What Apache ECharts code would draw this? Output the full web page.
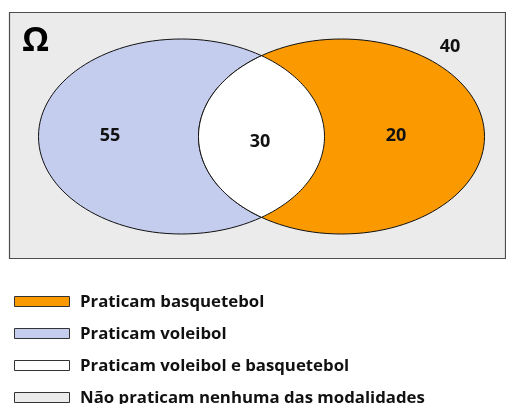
<!DOCTYPE html>
<html><head><meta charset="utf-8">
<script src="https://cdn.jsdelivr.net/npm/echarts@6/dist/echarts.min.js"></script>
<style>html,body{margin:0;padding:0;background:#fff}#c{width:506px;height:404px}</style>
</head><body><div id="c"></div>
<script>
// Data
var regionNames = ['Praticam voleibol', 'Praticam voleibol e basquetebol', 'Praticam basquetebol', 'Não praticam nenhuma das modalidades'];
var regionValues = [55, 30, 20, 40];
var legendNames = ['Praticam basquetebol', 'Praticam voleibol', 'Praticam voleibol e basquetebol', 'Não praticam nenhuma das modalidades'];
var legendColors = ['#fb9a00', '#c5cdee', '#ffffff', '#ebebeb'];
var universeLabel = 'Ω';

// Layout
var box = {x: 9, y: 12, w: 496, h: 246};
var L = {cx: 181.5, cy: 136.5, rx: 143, ry: 97.5};
var R = {cx: 341.5, cy: 136.5, rx: 143, ry: 97.5};
var xi = (L.cx + R.cx) / 2;
var tL = Math.acos((xi - L.cx) / L.rx);
var tR = Math.acos((xi - R.cx) / R.rx);
var pts = [], N = 80, k, a;
for (k = 0; k <= N; k++) {
  a = -tL + 2 * tL * k / N;
  pts.push([L.cx + L.rx * Math.cos(a), L.cy + L.ry * Math.sin(a)]);
}
for (k = 0; k <= N; k++) {
  a = tR + (2 * Math.PI - 2 * tR) * k / N;
  pts.push([R.cx + R.rx * Math.cos(a), R.cy + R.ry * Math.sin(a)]);
}

var FONT = '"Open Sans","Noto Sans",sans-serif';
var els = [];
els.push({type: 'rect', shape: {x: box.x + 0.5, y: box.y + 0.5, width: box.w, height: box.h},
  style: {fill: '#ebebeb', stroke: '#4d4d4d', lineWidth: 1.2}});
els.push({type: 'ellipse', shape: L, style: {fill: '#c5cdee', stroke: '#111', lineWidth: 1}});
els.push({type: 'ellipse', shape: R, style: {fill: '#fb9a00', stroke: '#111', lineWidth: 1}});
els.push({type: 'polygon', shape: {points: pts}, style: {fill: '#ffffff', stroke: '#111', lineWidth: 1}});

var labelPos = [[110, 136], [260, 142], [396, 136], [450, 47]];
regionValues.forEach(function (v, i) {
  els.push({type: 'text', x: labelPos[i][0], y: labelPos[i][1],
    style: {text: String(v), fill: '#111', font: 'bold 18px ' + FONT, textAlign: 'center', textVerticalAlign: 'middle'}});
});
els.push({type: 'text', x: 35.5, y: 41,
  style: {text: universeLabel, fill: '#000', font: 'bold 34px ' + FONT, textAlign: 'center', textVerticalAlign: 'middle'}});

var rowY = [302, 334, 366, 398];
legendNames.forEach(function (n, i) {
  els.push({type: 'rect', shape: {x: 14.5, y: rowY[i] - 5.5, width: 55, height: 10},
    style: {fill: legendColors[i], stroke: '#333', lineWidth: 1}});
  els.push({type: 'text', x: 80, y: rowY[i],
    style: {text: n, fill: '#111', font: 'bold 16.8px ' + FONT, textAlign: 'left', textVerticalAlign: 'middle'}});
});

var chart = echarts.init(document.getElementById('c'), null, {renderer: 'canvas'});
chart.setOption({animation: false, graphic: {elements: els}});
</script></body></html>
